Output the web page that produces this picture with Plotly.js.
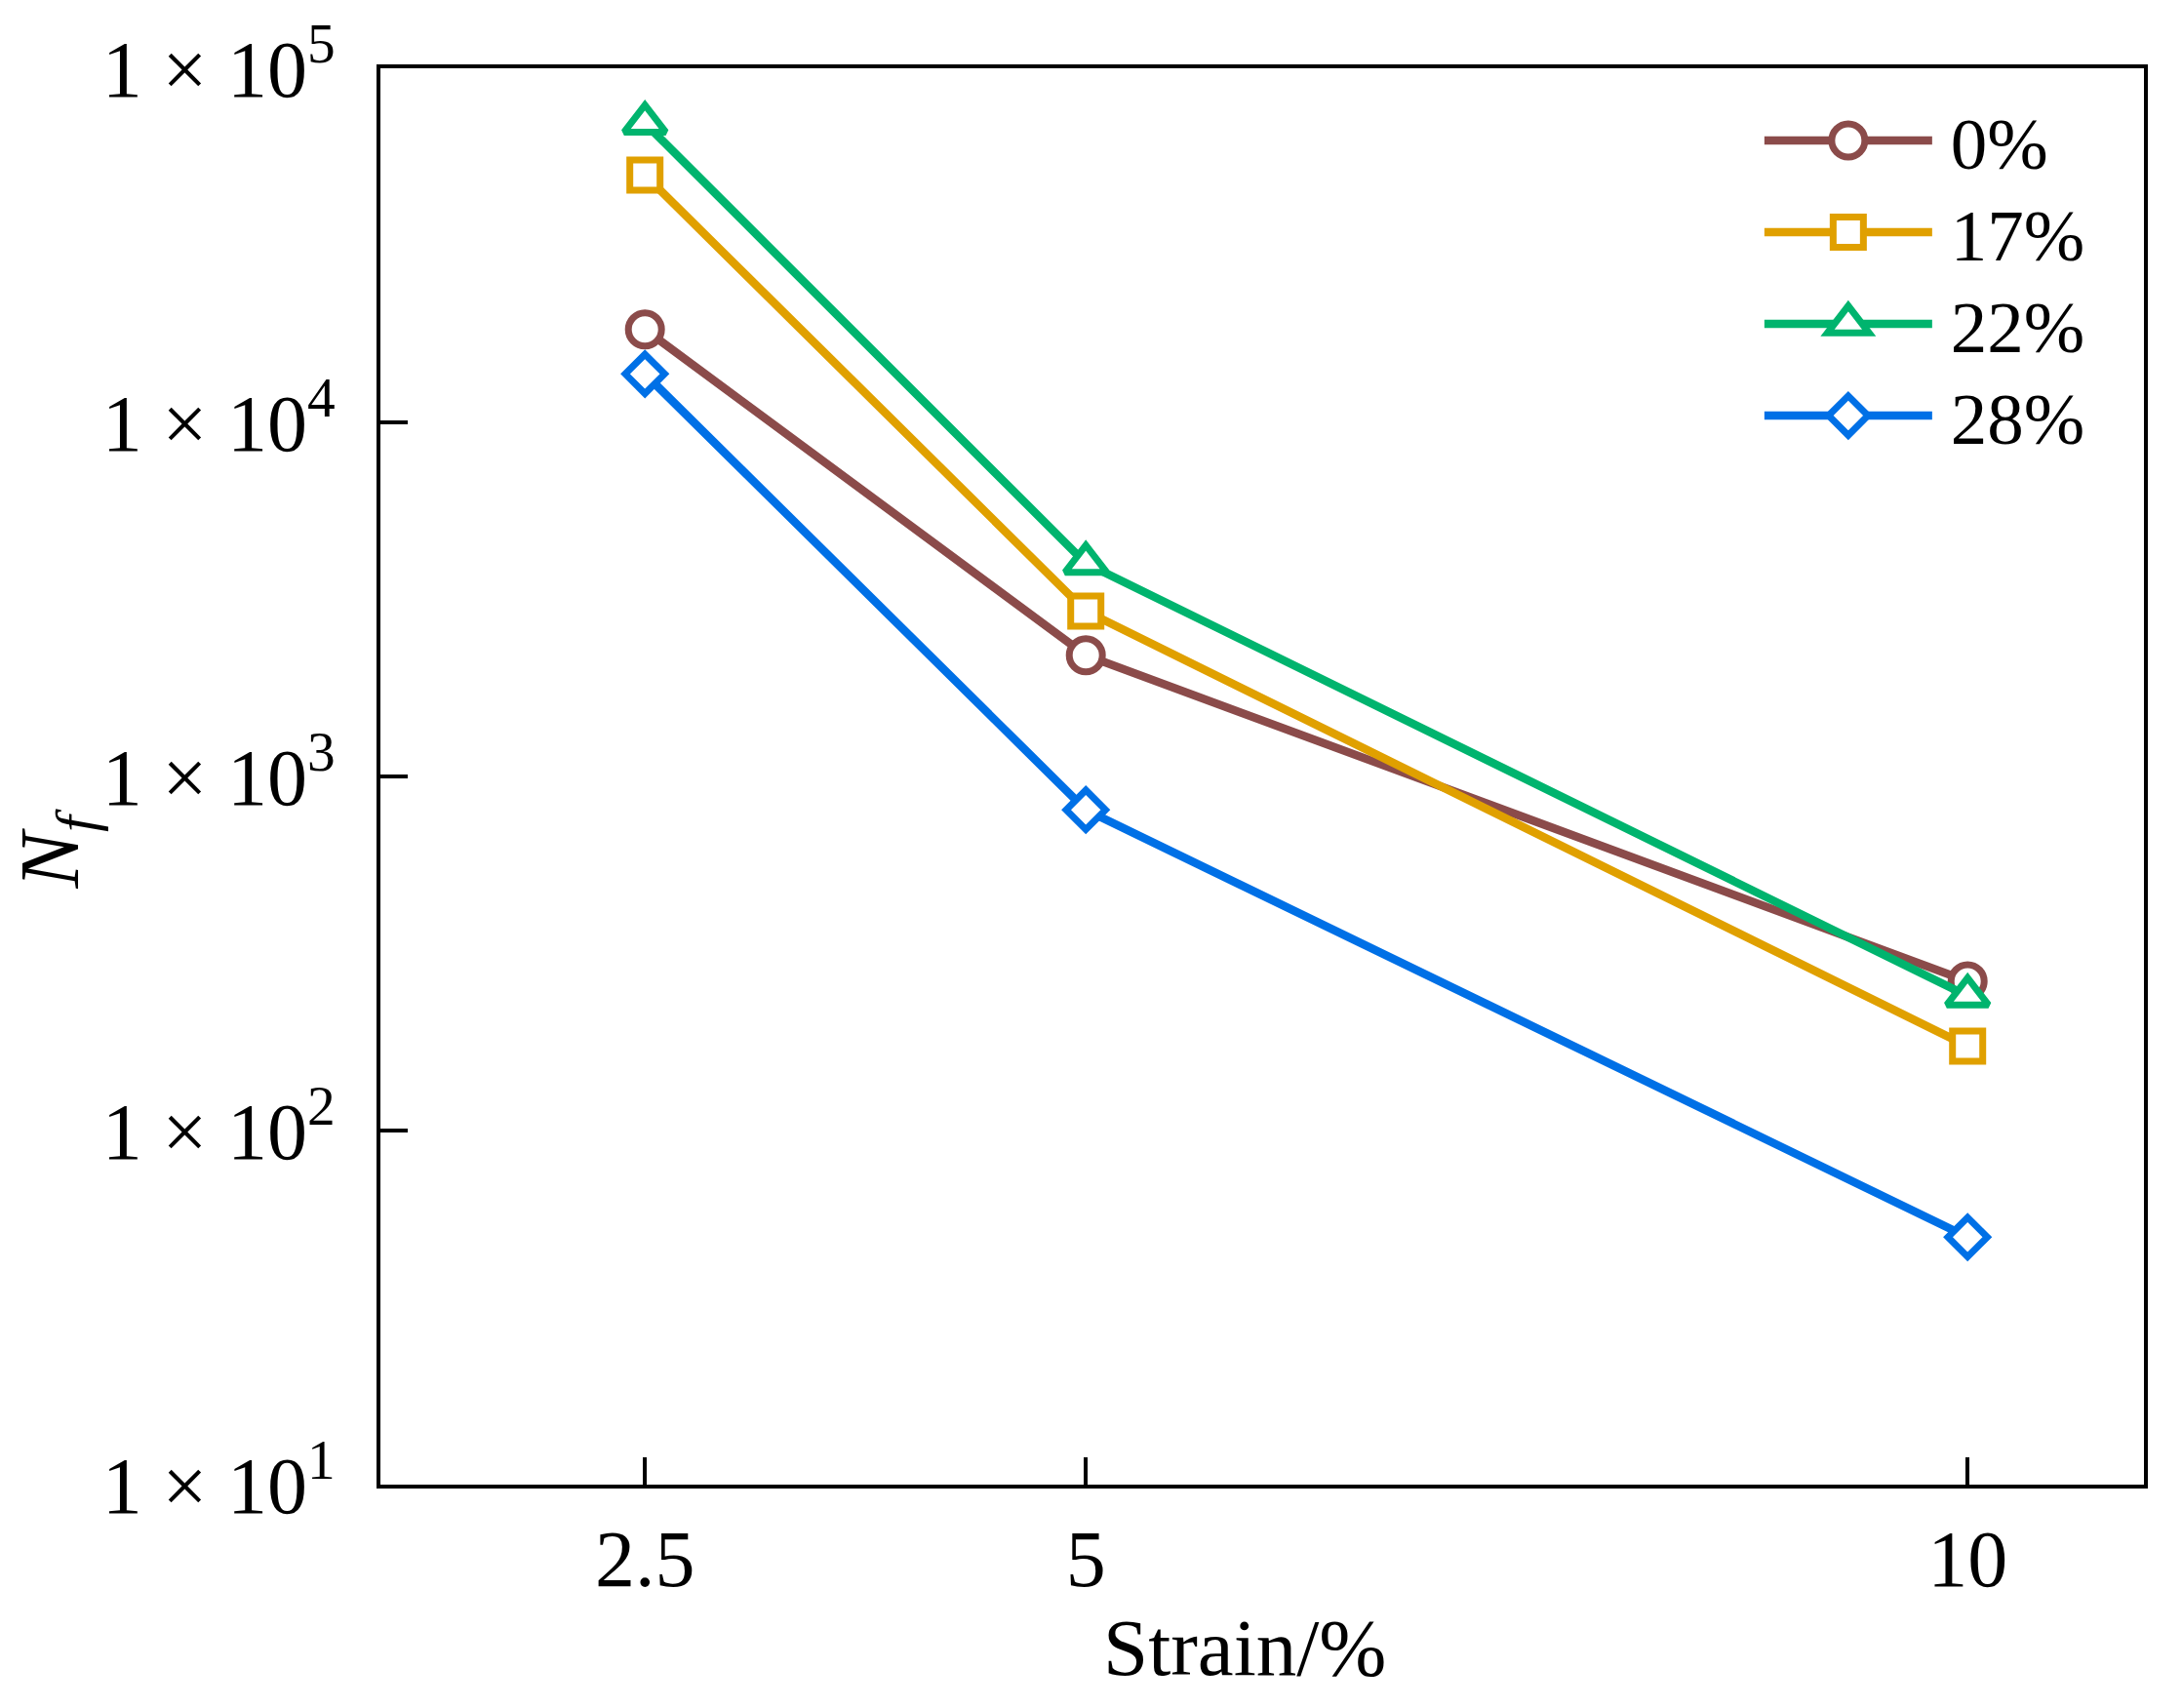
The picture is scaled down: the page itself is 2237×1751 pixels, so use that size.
<!DOCTYPE html>
<html>
<head>
<meta charset="utf-8">
<script src="https://cdn.plot.ly/plotly-3.0.1.min.js"></script>
<style>
  html, body { margin: 0; padding: 0; background: #fff; }
  #chart { width: 2237px; height: 1751px; }
</style>
</head>
<body>
<div id="chart"></div>
<script>
// strain amplitude (%) on the x axis
const strain = [2.5, 5, 10];

// fatigue life N_f per series
const nf0 = [18300, 2200, 264];
const nf17 = [49900, 2930, 173];
const nf22 = [70000, 4000, 240];
const nf28 = [13700, 805, 50];

const seriesNames = ['0%', '17%', '22%', '28%'];
const seriesColors = ['#8b4b4a', '#e0a000', '#00b46e', '#0070e6'];
const seriesSymbols = ['circle', 'square', 'triangle-up', 'diamond'];
const seriesSizes = [34, 31, 37, 31];

const xTickVals = [2.5, 5, 10];
const xTickText = ['2.5', '5', '10'];
const yTickVals = [1e1, 1e2, 1e3, 1e4, 1e5];
const yTickText = yTickVals.map(v => '1 × 10<sup>' + Math.round(Math.log10(v)) + '</sup>');

const FONT = '"Liberation Serif", "Times New Roman", serif';
const LEGEND_MARKER = 16;   // plotly clamps legend markers to this size
const LEGEND_ROW = 94;      // row pitch of the legend in the reference
const LEGEND_TEXT_GAP = 14; // extra space between sample line and label

const seriesData = [nf0, nf17, nf22, nf28];

const traces = seriesData.map((ys, i) => ({
  type: 'scatter',
  mode: 'lines+markers',
  name: seriesNames[i],
  x: strain,
  y: ys,
  line: { color: seriesColors[i], width: 8.5 },
  marker: {
    symbol: seriesSymbols[i],
    size: seriesSizes[i],
    color: '#ffffff',
    line: { color: seriesColors[i], width: 7 }
  },
  cliponaxis: false
}));

const axisCommon = {
  showline: true,
  linecolor: '#000',
  linewidth: 4,
  mirror: true,
  ticks: 'inside',
  ticklen: 28,
  tickwidth: 3.5,
  tickcolor: '#000',
  showgrid: false,
  zeroline: false,
  tickfont: { family: FONT, size: 82, color: '#000' }
};

const layout = {
  width: 2237,
  height: 1751,
  paper_bgcolor: '#fff',
  plot_bgcolor: '#fff',
  font: { family: FONT, color: '#000' },
  margin: { l: 390, r: 39, t: 70, b: 229 },
  xaxis: Object.assign({}, axisCommon, {
    range: [1, 11],
    tickmode: 'array',
    tickvals: xTickVals,
    ticktext: xTickText,
    ticklabelstandoff: 2
  }),
  yaxis: Object.assign({}, axisCommon, {
    type: 'log',
    range: [1, 5],
    tickmode: 'array',
    tickvals: yTickVals,
    ticktext: yTickText,
    ticklabelstandoff: 26
  }),
  showlegend: true,
  legend: {
    x: 0.782, y: 0.985,
    xanchor: 'left', yanchor: 'top',
    bgcolor: 'rgba(0,0,0,0)',
    font: { family: FONT, size: 75, color: '#000' },
    itemwidth: 172,
    tracegroupgap: 0
  },
  annotations: [
    {
      text: 'Strain/%',
      xref: 'paper', yref: 'paper',
      x: 0.49, y: -0.115,
      xanchor: 'center', yanchor: 'middle',
      showarrow: false,
      font: { family: FONT, size: 83, color: '#000' }
    },
    {
      text: '<i>N<sub>f</sub></i>',
      xref: 'paper', yref: 'paper',
      x: -0.184, y: 0.449,
      xanchor: 'center', yanchor: 'middle',
      textangle: -90,
      showarrow: false,
      font: { family: FONT, size: 86, color: '#000' }
    }
  ]
};

Plotly.newPlot('chart', traces, layout, { displayModeBar: false, responsive: false }).then(gd => {
  // the labels are nudged right below, so the legend must not clip them
  gd.querySelectorAll('.legend [clip-path]').forEach(el => el.removeAttribute('clip-path'));
  const legend = gd.querySelector('.legend');
  if (legend) legend.removeAttribute('clip-path');

  const items = gd.querySelectorAll('.legend .traces');
  let y0 = null;
  items.forEach((g, i) => {
    // tighten the row pitch to match the reference
    const m = /translate\(\s*([-\d.]+)[ ,]+([-\d.]+)\s*\)/.exec(g.getAttribute('transform') || '');
    if (m) {
      const x = parseFloat(m[1]);
      if (y0 === null) y0 = parseFloat(m[2]) - 3;
      g.setAttribute('transform', 'translate(' + x + ',' + (y0 + i * LEGEND_ROW) + ')');
    }
    // enlarge the legend symbols to the size used in the plot area
    const p = g.querySelector('path.scatterpts');
    if (p) {
      const k = seriesSizes[i] / LEGEND_MARKER;
      p.setAttribute('transform', (p.getAttribute('transform') || '') + ' scale(' + k + ')');
      p.setAttribute('vector-effect', 'non-scaling-stroke');
      p.style.strokeWidth = '7px';
    }
    const t = g.querySelector('text.legendtext');
    if (t) t.setAttribute('transform', 'translate(' + LEGEND_TEXT_GAP + ',0)');
  });
});
</script>
</body>
</html>
